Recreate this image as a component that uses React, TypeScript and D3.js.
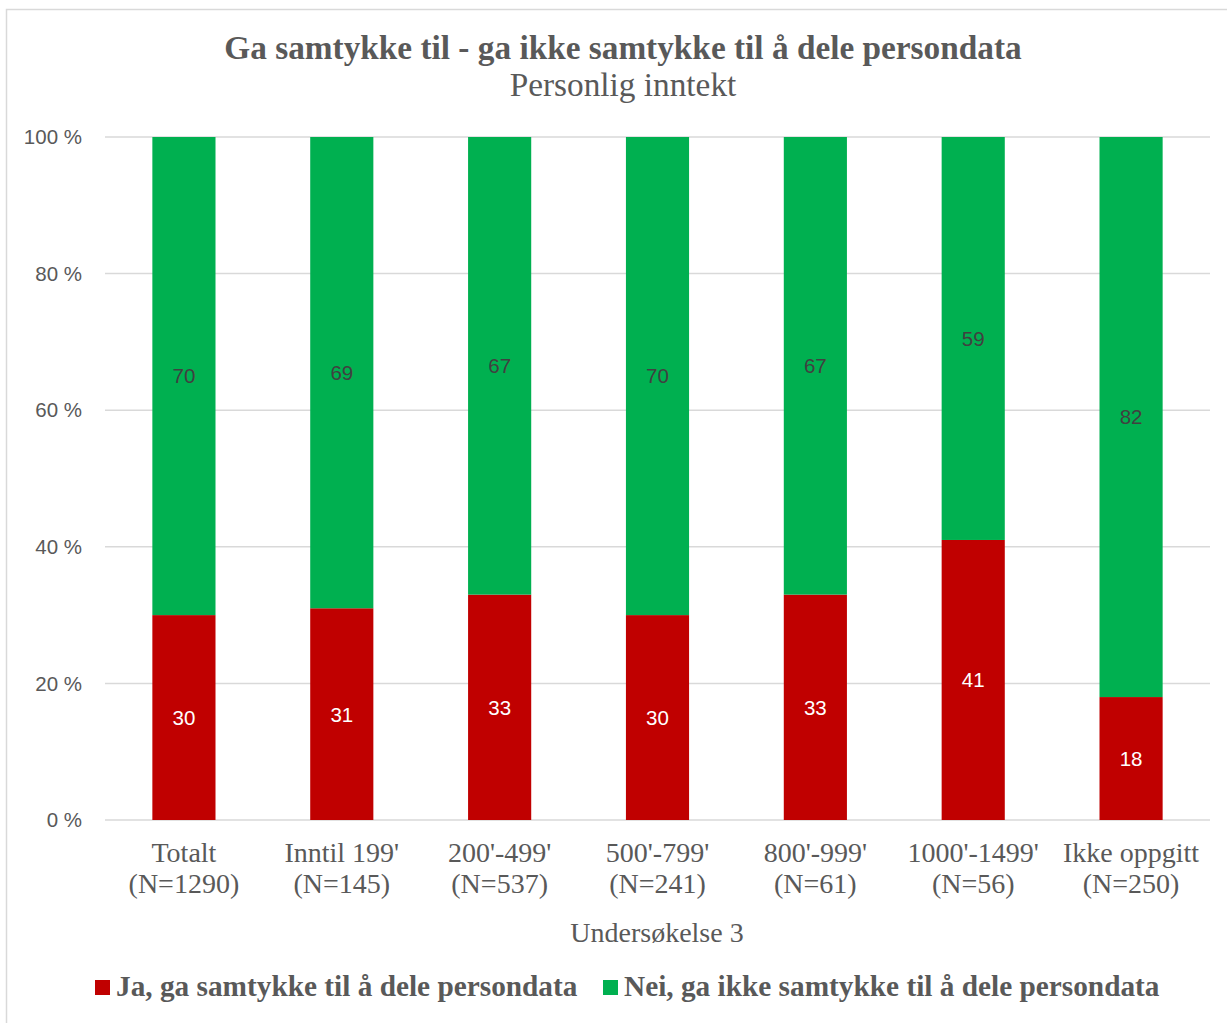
import React from "react";
import * as d3 from "d3";

const categories: string[][] = [
  ["Totalt", "(N=1290)"],
  ["Inntil 199'", "(N=145)"],
  ["200'-499'", "(N=537)"],
  ["500'-799'", "(N=241)"],
  ["800'-999'", "(N=61)"],
  ["1000'-1499'", "(N=56)"],
  ["Ikke oppgitt", "(N=250)"],
];
const jaValues = [30, 31, 33, 30, 33, 41, 18];
const neiValues = [70, 69, 67, 70, 67, 59, 82];
const yTicks = [0, 20, 40, 60, 80, 100];
const seriesNames = [
  "Ja, ga samtykke til å dele persondata",
  "Nei, ga ikke samtykke til å dele persondata",
];
const seriesColors = ["#c00000", "#00b050"];
const labelColors = ["#ffffff", "#404040"];

const W = 1227;
const H = 1023;
const plotLeft = 105;
const plotRight = 1210;
const plotTop = 137;
const plotBottom = 820;

export default function App() {
  const x = d3
    .scaleBand<number>()
    .domain(d3.range(categories.length))
    .range([plotLeft, plotRight])
    .paddingInner(0.6)
    .paddingOuter(0.3);
  const y = d3.scaleLinear().domain([0, 100]).range([plotBottom, plotTop]);

  const rows = categories.map((_, i) => ({ ja: jaValues[i], nei: neiValues[i] }));
  const stack = d3.stack<{ ja: number; nei: number }>().keys(["ja", "nei"]);
  const stacked = stack(rows);

  const serif = "'Liberation Serif', 'Times New Roman', serif";
  const sans = "'Liberation Sans', Arial, sans-serif";
  const gray = "#595959";

  return (
    <svg
      width={W}
      height={H}
      style={{ position: "absolute", left: 0, top: 0, background: "#fff" }}
    >
      <rect x={6.5} y={9.5} width={W + 10} height={H + 10} fill="#fff" stroke="#d9d9d9" strokeWidth={1.5} />
      <text x={623} y={59} textAnchor="middle" fontFamily={serif} fontWeight="bold" fontSize={33.3} fill={gray}>
        Ga samtykke til - ga ikke samtykke til å dele persondata
      </text>
      <text x={623} y={96} textAnchor="middle" fontFamily={serif} fontSize={33.3} fill={gray}>
        Personlig inntekt
      </text>

      {yTicks.map((t) => (
        <g key={t}>
          <line x1={plotLeft} x2={plotRight} y1={y(t)} y2={y(t)} stroke="#d9d9d9" strokeWidth={1.5} />
          <text x={82} y={y(t)} dy="0.35em" textAnchor="end" fontFamily={sans} fontSize={20.5} fill={gray}>
            {t} %
          </text>
        </g>
      ))}

      {stacked.map((layer, si) => (
        <g key={si}>
          {layer.map((d, i) => (
            <g key={i}>
              <rect
                x={x(i)!}
                width={x.bandwidth()}
                y={y(d[1])}
                height={y(d[0]) - y(d[1])}
                fill={seriesColors[si]}
              />
              <text
                x={x(i)! + x.bandwidth() / 2}
                y={(y(d[0]) + y(d[1])) / 2}
                dy="0.36em"
                textAnchor="middle"
                fontFamily={sans}
                fontSize={20.5}
                fill={labelColors[si]}
              >
                {d[1] - d[0]}
              </text>
            </g>
          ))}
        </g>
      ))}

      {categories.map((c, i) => (
        <text key={i} textAnchor="middle" fontFamily={serif} fontSize={28} fill={gray}>
          <tspan x={x(i)! + x.bandwidth() / 2} y={862}>{c[0]}</tspan>
          <tspan x={x(i)! + x.bandwidth() / 2} y={893}>{c[1]}</tspan>
        </text>
      ))}

      <text x={657} y={942} textAnchor="middle" fontFamily={serif} fontSize={28} fill={gray}>
        Undersøkelse 3
      </text>

      <g>
        <rect x={95} y={980} width={15} height={15} fill={seriesColors[0]} />
        <text x={116} y={996} fontFamily={serif} fontWeight="bold" fontSize={29.3} fill={gray}>
          {seriesNames[0]}
        </text>
        <rect x={603} y={980} width={15} height={15} fill={seriesColors[1]} />
        <text x={624} y={996} fontFamily={serif} fontWeight="bold" fontSize={29.3} fill={gray}>
          {seriesNames[1]}
        </text>
      </g>
    </svg>
  );
}
